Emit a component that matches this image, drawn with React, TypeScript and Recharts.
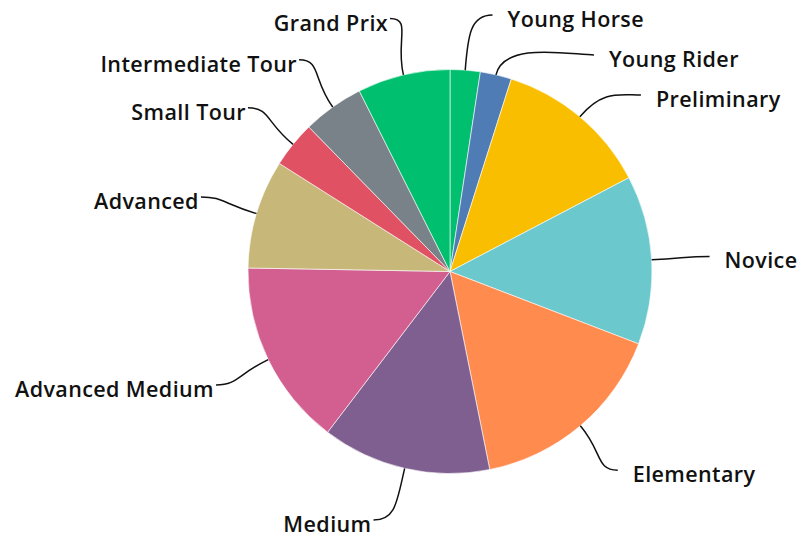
import React from 'react';
import { PieChart, Pie, Cell } from 'recharts';

const categories = ['Young Horse', 'Young Rider', 'Preliminary', 'Novice', 'Elementary', 'Medium', 'Advanced Medium', 'Advanced', 'Small Tour', 'Intermediate Tour', 'Grand Prix'];
const values = [2.4, 2.5, 12.4, 13.5, 16.0, 13.5, 14.9, 8.7, 3.7, 4.9, 7.4];
const colors = ['#00bf6f', '#507cb6', '#f9be00', '#6bc8cd', '#ff8b4f', '#7f5f90', '#d25f90', '#c7b879', '#e05263', '#7a8289', '#00bf6f'];

const W = 804, H = 538, CX = 450, CY = 271.5, R = 202;
const LABEL_R = R + 58;
const GAP = 40, TOP = 15, BOTTOM = 520;

const data = categories.map((name, i) => ({ name, value: values[i] }));

type Item = { i: number; right: boolean; x: number; y: number; px: number; py: number; ux: number; uy: number; lx: number; ly: number };

function layoutLabels(): Item[] {
  const total = values.reduce((a, b) => a + b, 0);
  let acc = 0;
  const items: Item[] = values.map((v, i) => {
    const a = ((acc + v / 2) / total) * 360;
    acc += v;
    const rad = (a * Math.PI) / 180;
    const ux = Math.sin(rad), uy = -Math.cos(rad);
    return { i, right: a < 180, x: CX + LABEL_R * ux, y: CY + LABEL_R * uy, px: CX + R * ux, py: CY + R * uy, ux, uy, lx: 0, ly: 0 };
  });
  for (const side of [true, false]) {
    const group = items.filter((it) => it.right === side).sort((p, q) => p.y - q.y);
    let prev = -Infinity;
    group.forEach((it) => {
      it.ly = Math.max(it.y, TOP, prev + GAP);
      prev = it.ly;
    });
    let next = Infinity;
    for (let k = group.length - 1; k >= 0; k--) {
      const it = group[k];
      it.ly = Math.min(it.ly, BOTTOM, next - GAP);
      next = it.ly;
    }
    group.forEach((it) => {
      const d = it.ly - CY;
      if (Math.abs(it.ly - it.y) > 0.01 && Math.abs(d) < LABEL_R) {
        const off = Math.sqrt(LABEL_R * LABEL_R - d * d);
        it.lx = CX + (side ? off : -off);
      } else {
        it.lx = it.x;
      }
    });
  }
  return items;
}

const layout = layoutLabels();

const renderLabel = (props: any) => {
  const idx = categories.indexOf(props.name ?? props.payload?.name);
  const it = layout[idx];
  if (!it) return null;
  const k1 = 35, k2 = 22;
  const c1x = it.px + it.ux * k1, c1y = it.py + it.uy * k1;
  const c2x = it.right ? it.lx - k2 : it.lx + k2;
  const d = `M${it.px},${it.py} C${c1x},${c1y} ${c2x},${it.ly} ${it.lx},${it.ly}`;
  return (
    <g key={`lbl-${idx}`}>
      <path d={d} fill="none" stroke="#111" strokeWidth={1.5} />
      <text
        x={it.right ? it.lx + 15 : it.lx - 2}
        y={it.ly + 12}
        textAnchor={it.right ? 'start' : 'end'}
        fontFamily="'Open Sans', sans-serif"
        fontWeight={600}
        fontSize={21.5}
        letterSpacing={0.4}
        fill="#111"
      >
        {categories[idx]}
      </text>
    </g>
  );
};

export default function App() {
  return (
    <div style={{ position: 'absolute', left: 0, top: 0, width: W, height: H, background: '#fff' }}>
      <PieChart width={W} height={H} margin={{ top: 0, right: 0, bottom: 0, left: 0 }}>
        <Pie
          data={data}
          dataKey="value"
          nameKey="name"
          cx={CX}
          cy={CY}
          outerRadius={R}
          startAngle={90}
          endAngle={-270}
          isAnimationActive={false}
          stroke="#ffffff"
          strokeWidth={0.6}
          label={renderLabel}
          labelLine={false}
        >
          {data.map((d, i) => (
            <Cell key={d.name} fill={colors[i]} />
          ))}
        </Pie>
      </PieChart>
    </div>
  );
}
